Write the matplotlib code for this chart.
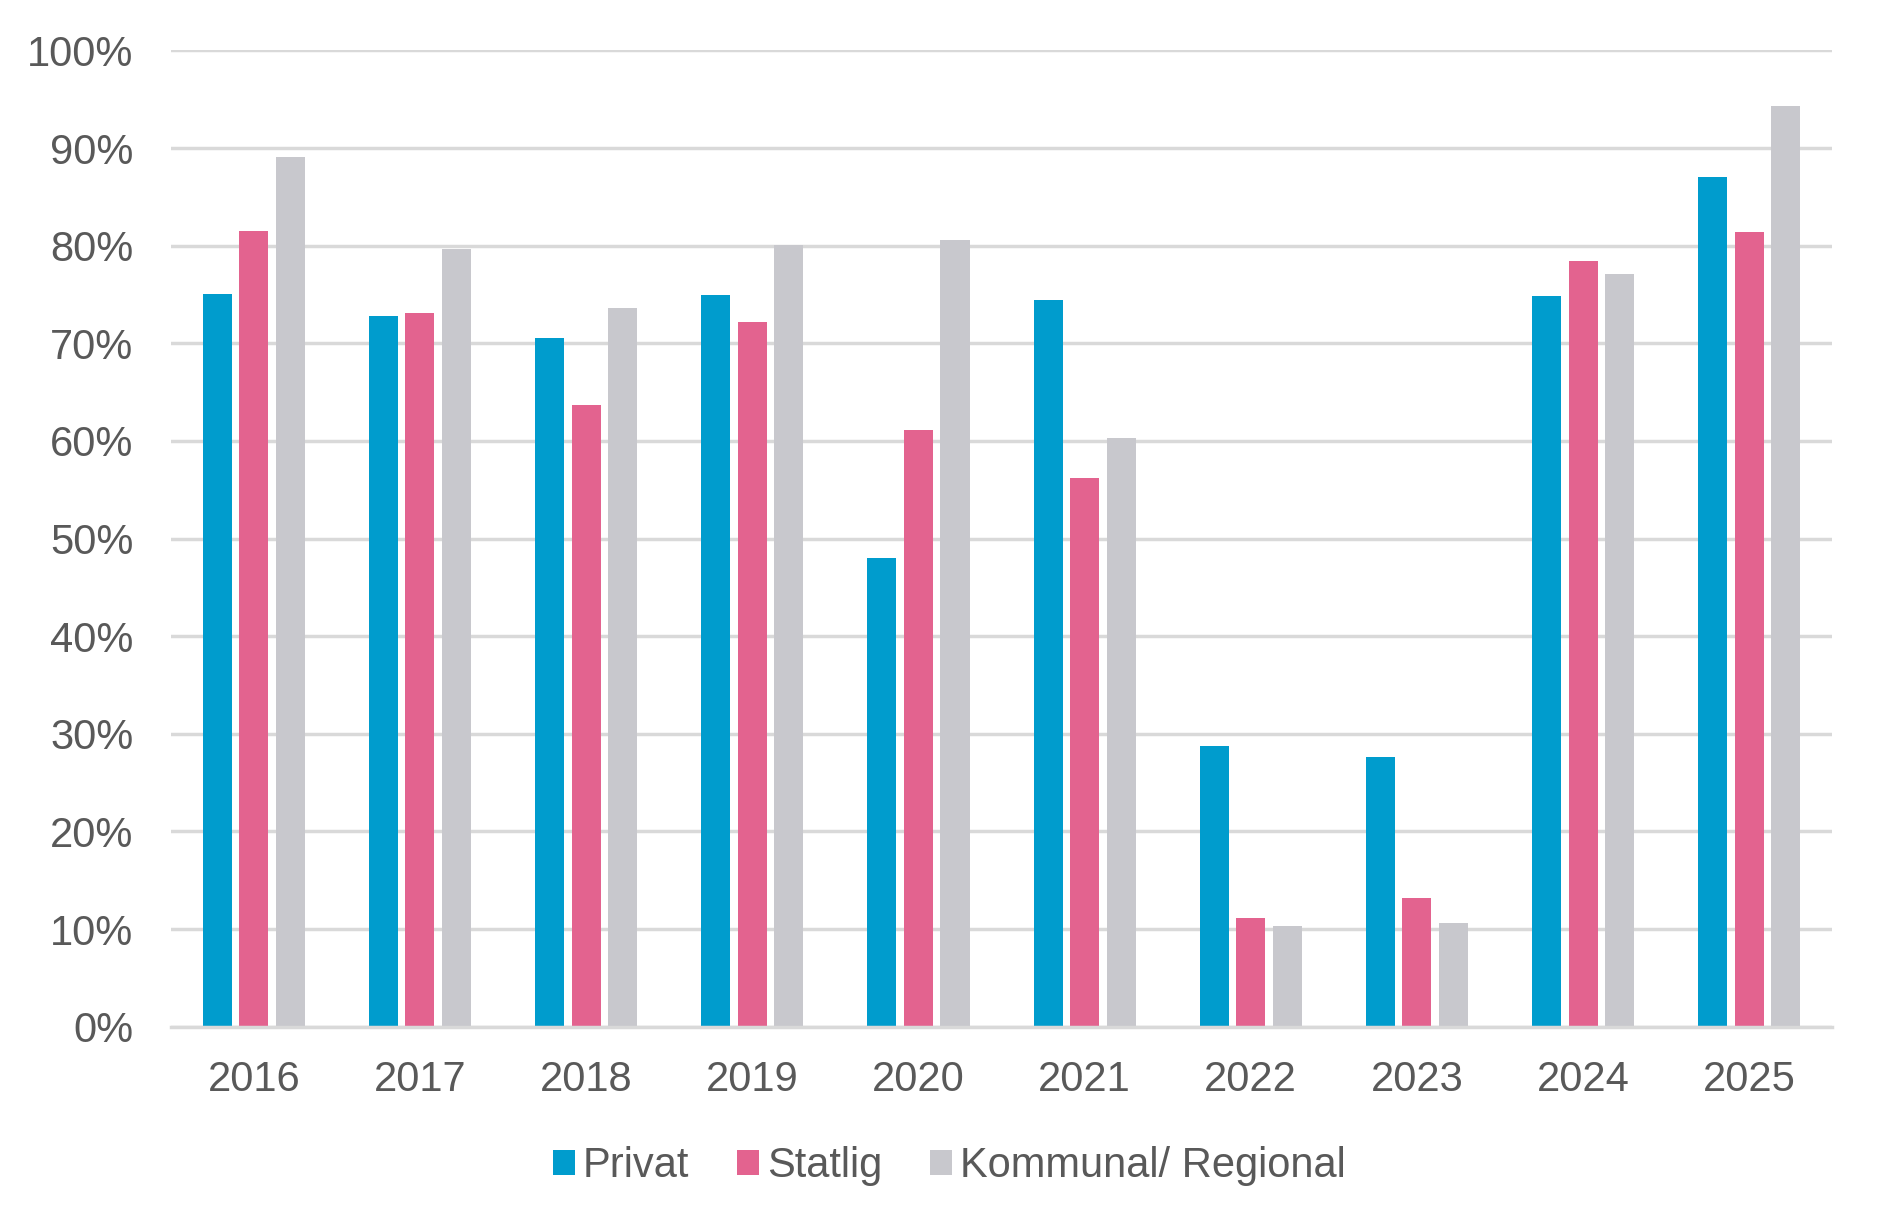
import numpy as np
import matplotlib
matplotlib.use('Agg')
from matplotlib import pyplot as plt
from matplotlib.ticker import PercentFormatter

years = ['2016', '2017', '2018', '2019', '2020', '2021', '2022', '2023', '2024', '2025']
privat = [75.0, 72.8, 70.5, 74.9, 48.0, 74.4, 28.8, 27.6, 74.8, 87.0]
statlig = [81.5, 73.1, 63.7, 72.2, 61.1, 56.2, 11.1, 13.2, 78.4, 81.4]
kommunal = [89.1, 79.7, 73.6, 80.1, 80.6, 60.3, 10.3, 10.6, 77.1, 94.3]

series_names = ['Privat', 'Statlig', 'Kommunal/ Regional']
colors = ['#009ccd', '#e3638f', '#c8c8cd']
text_color = '#595959'

plt.rcParams['font.family'] = ['Liberation Sans', 'DejaVu Sans']

fig = plt.figure(figsize=(18.84, 12.29), dpi=100)
ax = fig.add_axes([0.0906, 0.1646, 0.882, 0.7944])

x = np.arange(len(years))
width = 0.175
offset = 0.22
for i, (vals, name, col) in enumerate(zip([privat, statlig, kommunal], series_names, colors)):
    ax.bar(x + (i - 1) * offset, vals, width, color=col, label=name, zorder=3)

ax.set_xlim(-0.5, len(years) - 0.5)
ax.set_ylim(0, 100)
ax.set_yticks(np.arange(0, 101, 10))
ax.yaxis.set_major_formatter(PercentFormatter(decimals=0))
ax.set_xticks(x)
ax.set_xticklabels(years)

ax.grid(axis='y', color='#d9d9d9', linewidth=2.5, zorder=0)
for side in ['top', 'right', 'left']:
    ax.spines[side].set_visible(False)
ax.spines['bottom'].set_color('#d9d9d9')
ax.spines['bottom'].set_linewidth(2.5)
ax.spines['bottom'].set_zorder(4)
ax.tick_params(axis='both', length=0, labelsize=30, colors=text_color)
ax.tick_params(axis='y', pad=27)
ax.tick_params(axis='x', pad=24)

leg = fig.legend(loc='center', bbox_to_anchor=(0.504, 0.051), ncol=3, frameon=False,
                 fontsize=30, handlelength=0.52, handleheight=0.52, handletextpad=0.2,
                 columnspacing=1.15)
for t in leg.get_texts():
    t.set_color(text_color)

fig.savefig('out.png', dpi=100, facecolor='white')
